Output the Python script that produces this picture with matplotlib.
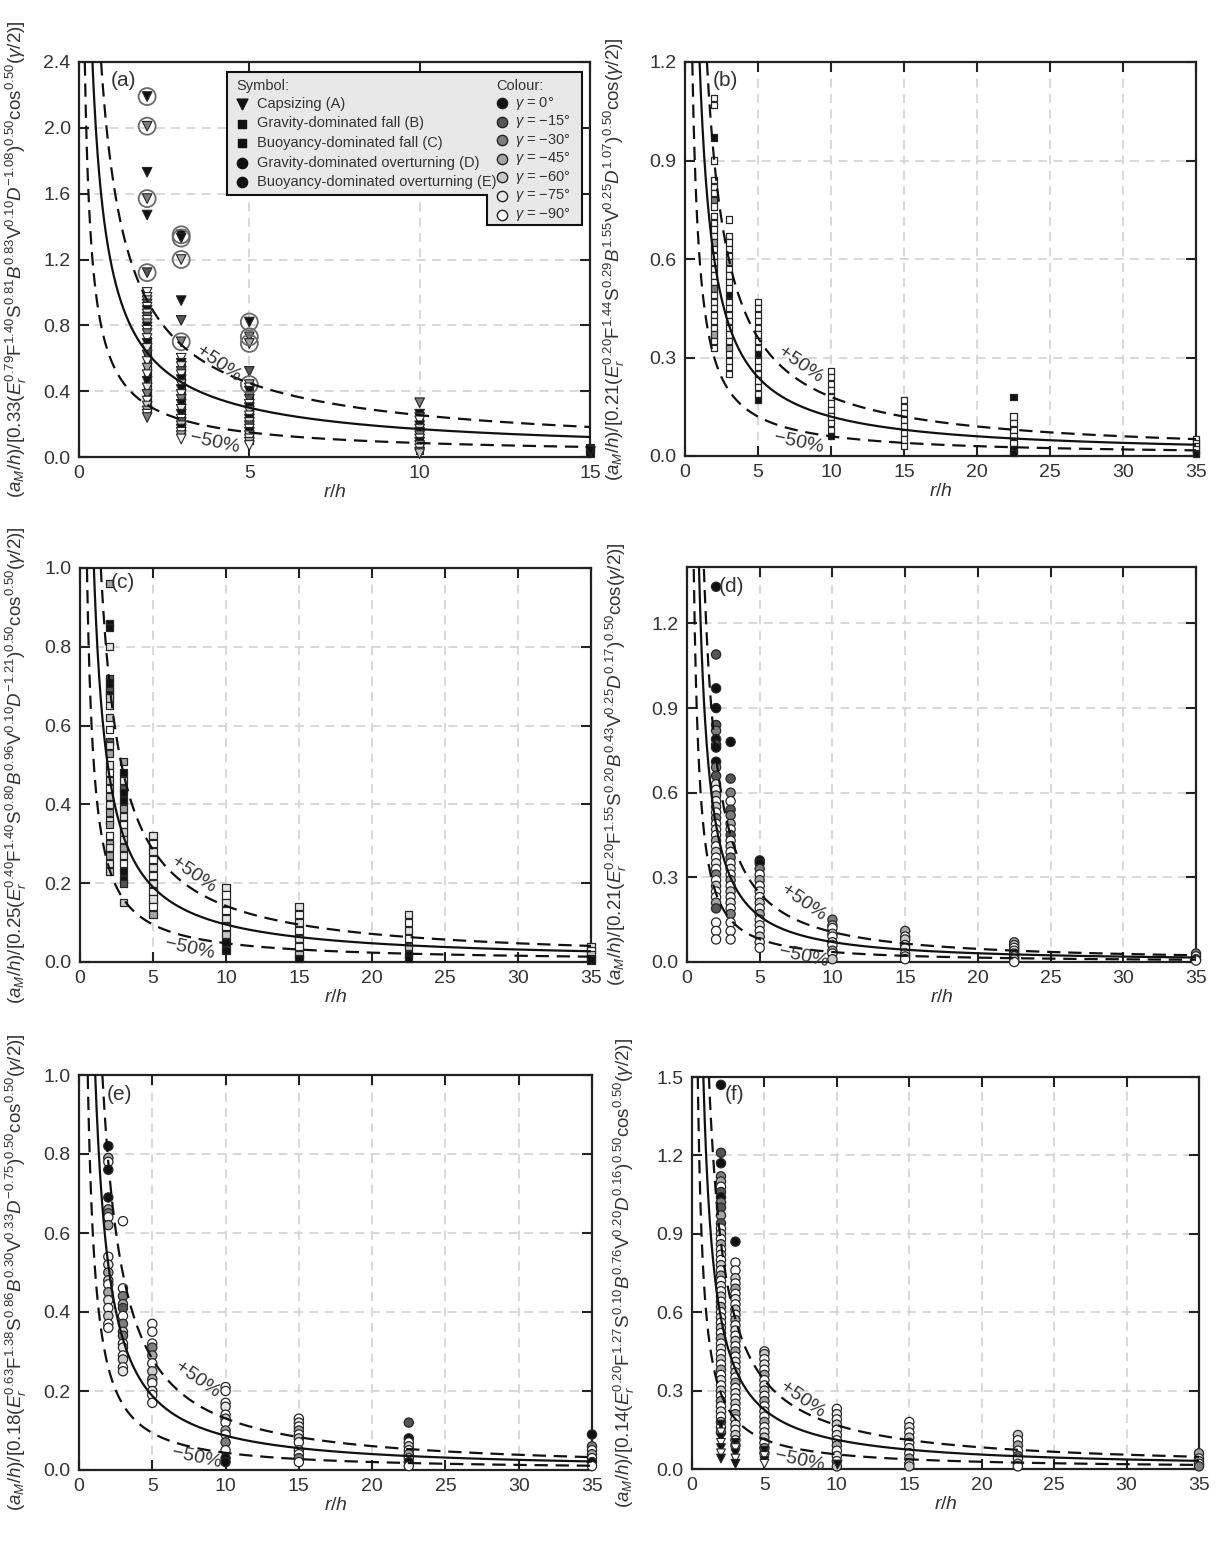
import numpy as np
import matplotlib
matplotlib.use("Agg")
import matplotlib.pyplot as plt
from matplotlib.patches import Polygon

plt.rcParams['font.family'] = ['Liberation Sans', 'DejaVu Sans']
plt.rcParams['mathtext.fontset'] = 'custom'
plt.rcParams['mathtext.rm'] = 'Liberation Sans'
plt.rcParams['mathtext.it'] = 'Liberation Sans:italic'
plt.rcParams['mathtext.bf'] = 'Liberation Sans:bold'
plt.rcParams['mathtext.sf'] = 'Liberation Sans'

# ---------------- data ----------------
R_A = [2, 3, 5, 10, 15]
R_ALL = [2, 3, 5, 10, 15, 22.5, 35]

# gamma code: 0 -> 0deg, 1 -> -15, 2 -> -30, 3 -> -45, 4 -> -60, 5 -> -75, 6 -> -90
A_TRI_Y = [
    [2.19, 2.01, 1.73, 1.57, 1.47, 1.12, 1.00, 0.97, 0.95, 0.93, 0.91, 0.89, 0.87, 0.85, 0.83, 0.81,
     0.79, 0.77, 0.75, 0.72, 0.69, 0.66, 0.62, 0.58, 0.54, 0.50, 0.46, 0.42, 0.38, 0.34, 0.31, 0.28, 0.26, 0.24],
    [1.35, 1.33, 1.20, 0.95, 0.83, 0.70, 0.60, 0.57, 0.55, 0.52, 0.50, 0.47, 0.44, 0.41, 0.38, 0.35,
     0.32, 0.29, 0.26, 0.23, 0.21, 0.19, 0.17, 0.15, 0.13, 0.11],
    [0.82, 0.73, 0.69, 0.52, 0.44, 0.42, 0.40, 0.37, 0.35, 0.32, 0.30, 0.28, 0.25, 0.23, 0.21, 0.19,
     0.17, 0.15, 0.13, 0.11, 0.09, 0.07],
    [0.33, 0.26, 0.24, 0.22, 0.19, 0.17, 0.15, 0.13, 0.11, 0.09, 0.07, 0.05, 0.03, 0.02],
    [0.035],
]
A_TRI_G = ["0202016641605163062605163605264362",
           "00301260516040620506140636",
           "0231360516046051604636",
           "20160402603614",
           "0"]
A_SQ_Y = [
    [0.71, 0.69, 0.67, 0.64, 0.61, 0.59, 0.57, 0.55, 0.53, 0.51, 0.49, 0.47, 0.45, 0.43, 0.41, 0.39,
     0.37, 0.35, 0.33, 0.31, 0.29],
    [0.58, 0.54, 0.50, 0.46, 0.43, 0.40, 0.37, 0.34, 0.31, 0.28, 0.25, 0.22, 0.19, 0.16],
    [0.40, 0.36, 0.33, 0.29, 0.26, 0.22, 0.19, 0.16, 0.13, 0.10],
    [0.25, 0.21, 0.18, 0.14, 0.12, 0.08, 0.06, 0.04],
    [0.06, 0.05, 0.04, 0.03, 0.02],
]
A_SQ_G = ["010305104106203105020", "01030104020105", "1030104020", "01030102", "00010"]
A_RING_Y = [[2.19, 2.01, 1.57, 1.12], [1.35, 1.33, 1.20, 0.70], [0.82, 0.73, 0.69, 0.44], [], []]

B_SQ_Y = [
    [1.09, 1.07, 0.97, 0.90, 0.84, 0.82, 0.80, 0.78, 0.76, 0.73, 0.71, 0.69, 0.67, 0.65, 0.63, 0.61,
     0.59, 0.57, 0.55, 0.53, 0.51, 0.49, 0.47, 0.45, 0.43, 0.41, 0.39, 0.37, 0.35, 0.33],
    [0.72, 0.67, 0.65, 0.63, 0.61, 0.59, 0.57, 0.55, 0.53, 0.51, 0.49, 0.47, 0.45, 0.43, 0.41, 0.39,
     0.37, 0.35, 0.33, 0.31, 0.29, 0.27, 0.25],
    [0.47, 0.45, 0.43, 0.41, 0.39, 0.37, 0.35, 0.33, 0.31, 0.29, 0.27, 0.25, 0.23, 0.21, 0.19, 0.17],
    [0.26, 0.24, 0.22, 0.20, 0.18, 0.16, 0.14, 0.12, 0.10, 0.08, 0.06],
    [0.17, 0.15, 0.13, 0.11, 0.09, 0.07, 0.05, 0.03],
    [0.18, 0.12, 0.10, 0.08, 0.06, 0.04, 0.02, 0.01],
    [0.05, 0.04, 0.03, 0.02, 0.01, 0.005],
]
B_SQ_G = ["660666626666636666662666666366", "66666366660666666636666", "6666666606666660",
          "66666666660", "66666666", "06666600", "666600"]

C_SQ_Y = [
    [0.96, 0.86, 0.85, 0.80, 0.72, 0.71, 0.70, 0.69, 0.68, 0.67, 0.65, 0.62, 0.59, 0.56, 0.55, 0.53,
     0.50, 0.48, 0.46, 0.44, 0.42, 0.40, 0.38, 0.36, 0.35, 0.32, 0.30, 0.29, 0.27, 0.25, 0.23],
    [0.51, 0.48, 0.46, 0.44, 0.43, 0.41, 0.39, 0.37, 0.35, 0.33, 0.31, 0.29, 0.27, 0.25, 0.23, 0.21, 0.20, 0.15],
    [0.32, 0.30, 0.28, 0.26, 0.24, 0.22, 0.20, 0.18, 0.16, 0.14, 0.12],
    [0.19, 0.17, 0.15, 0.13, 0.11, 0.09, 0.07, 0.05, 0.03],
    [0.14, 0.12, 0.10, 0.08, 0.06, 0.04, 0.02, 0.01],
    [0.12, 0.10, 0.08, 0.06, 0.04, 0.02, 0.01],
    [0.04, 0.03, 0.02, 0.01, 0.005],
]
C_SQ_G = ["3005100104546153564645353635354", "305100356453560014", "56565656563",
          "565656400", "56565640", "5656400", "56400"]

D_CI_Y = [
    [1.33, 1.09, 0.97, 0.90, 0.84, 0.82, 0.79, 0.77, 0.76, 0.71, 0.69, 0.66, 0.63, 0.61, 0.59, 0.57,
     0.55, 0.53, 0.51, 0.49, 0.47, 0.45, 0.43, 0.41, 0.39, 0.37, 0.35, 0.33, 0.31, 0.29, 0.27, 0.25,
     0.23, 0.21, 0.19, 0.14, 0.11, 0.08],
    [0.78, 0.65, 0.60, 0.57, 0.54, 0.52, 0.49, 0.47, 0.45, 0.43, 0.41, 0.39, 0.37, 0.35, 0.33, 0.31,
     0.29, 0.27, 0.25, 0.23, 0.21, 0.19, 0.17, 0.14, 0.11, 0.08],
    [0.36, 0.35, 0.33, 0.31, 0.29, 0.27, 0.25, 0.23, 0.21, 0.19, 0.17, 0.15, 0.13, 0.11, 0.09, 0.07, 0.05],
    [0.15, 0.13, 0.12, 0.10, 0.09, 0.07, 0.06, 0.04, 0.03, 0.01],
    [0.11, 0.09, 0.08, 0.06, 0.05, 0.03, 0.02, 0.01],
    [0.07, 0.06, 0.05, 0.04, 0.03, 0.02, 0.01, 0.0],
    [0.03, 0.02, 0.01, 0.005],
]
D_CI_G = ["01001201002156364626563646562646631666", "01261236164626563646562666",
          "00263656463656466", "2364656364", "36465646", "34653646", "2636"]

E_CI_Y = [
    [0.82, 0.79, 0.78, 0.76, 0.69, 0.66, 0.65, 0.64, 0.62, 0.54, 0.52, 0.50, 0.48, 0.47, 0.45, 0.43,
     0.41, 0.39, 0.37, 0.36],
    [0.63, 0.46, 0.44, 0.42, 0.41, 0.39, 0.37, 0.35, 0.34, 0.32, 0.31, 0.29, 0.28, 0.26, 0.25],
    [0.37, 0.35, 0.32, 0.31, 0.29, 0.27, 0.25, 0.23, 0.22, 0.20, 0.19, 0.17],
    [0.21, 0.20, 0.17, 0.16, 0.14, 0.13, 0.12, 0.10, 0.09, 0.07, 0.05, 0.03, 0.02],
    [0.13, 0.12, 0.11, 0.10, 0.09, 0.08, 0.07, 0.05, 0.04, 0.03, 0.02],
    [0.12, 0.08, 0.07, 0.06, 0.05, 0.04, 0.03, 0.02, 0.01],
    [0.09, 0.06, 0.05, 0.04, 0.03, 0.02, 0.01],
]
E_CI_G = ["03600326365346356466", "662316242656465", "666236436566", "6665646362600",
          "65636465626", "106463606", "0263606"]

F_CI_Y = [
    [1.47, 1.21, 1.17, 1.12, 1.10, 1.08, 1.06, 1.04, 1.02, 1.00, 0.97, 0.94, 0.92,
     0.90, 0.88, 0.86, 0.84, 0.82, 0.80, 0.78, 0.76, 0.74, 0.72, 0.70, 0.68, 0.66, 0.64, 0.62, 0.60,
     0.58, 0.56, 0.54, 0.52, 0.50, 0.48, 0.46, 0.44, 0.42, 0.40, 0.38, 0.36, 0.34, 0.32, 0.30, 0.28,
     0.26, 0.24, 0.22, 0.20, 0.18, 0.16, 0.14],
    [0.87, 0.79, 0.76, 0.73, 0.71, 0.69, 0.67, 0.65, 0.63, 0.61, 0.59, 0.57, 0.55, 0.53, 0.51, 0.49,
     0.47, 0.45, 0.43, 0.41, 0.39, 0.37, 0.35, 0.33, 0.31, 0.29, 0.27, 0.25, 0.23, 0.21, 0.19, 0.17,
     0.15, 0.13, 0.11, 0.09],
    [0.45, 0.44, 0.42, 0.40, 0.38, 0.36, 0.34, 0.32, 0.30, 0.28, 0.26, 0.24, 0.22, 0.20, 0.18, 0.16,
     0.14, 0.12, 0.10, 0.08, 0.06],
    [0.23, 0.21, 0.19, 0.17, 0.15, 0.13, 0.11, 0.09, 0.07, 0.05, 0.03, 0.01],
    [0.18, 0.16, 0.14, 0.12, 0.10, 0.08, 0.06, 0.04, 0.02, 0.01],
    [0.13, 0.11, 0.09, 0.07, 0.05, 0.04, 0.02, 0.01],
    [0.06, 0.04, 0.03, 0.02, 0.01],
]
F_CI_G = ["0102361021316463656463656463656463656463656463656463",
          "066463656463656463656463656463656463",
          "646563654636563654636", "656465636564", "6564656364", "46362646", "36462"]
F_TRI_Y = [[0.17, 0.14, 0.12, 0.10, 0.08, 0.06, 0.04], [0.10, 0.08, 0.06, 0.04, 0.02],
           [0.07, 0.05, 0.03, 0.02], [0.02], [], [], []]
F_TRI_G = ["0606060", "06060", "0606", "0", "0", "0", "0"]

# fitted power-law curves  y = a * (r/h)^(-b)
FIT = {'a': (1.12, 0.82), 'b': (1.20, 1.0), 'c': (0.95, 1.0),
       'd': (1.11, 1.195), 'e': (1.12, 1.11), 'f': (1.17, 1.02)}

YLABELS = {
    'a': r"$(a_M/h)/[0.33(E_r^{0.79}\mathrm{F}^{1.40}\mathrm{S}^{0.81}B^{0.83}\mathrm{V}^{0.10}D^{-1.08})^{0.50}\mathrm{cos}^{0.50}(\gamma/2)]$",
    'b': r"$(a_M/h)/[0.21(E_r^{0.20}\mathrm{F}^{1.44}\mathrm{S}^{0.29}B^{1.55}\mathrm{V}^{0.25}D^{1.07})^{0.50}\mathrm{cos}(\gamma/2)]$",
    'c': r"$(a_M/h)/[0.25(E_r^{0.40}\mathrm{F}^{1.40}\mathrm{S}^{0.80}B^{0.96}\mathrm{V}^{0.10}D^{-1.21})^{0.50}\mathrm{cos}^{0.50}(\gamma/2)]$",
    'd': r"$(a_M/h)/[0.21(E_r^{0.20}\mathrm{F}^{1.55}\mathrm{S}^{0.20}B^{0.43}\mathrm{V}^{0.25}D^{0.17})^{0.50}\mathrm{cos}(\gamma/2)]$",
    'e': r"$(a_M/h)/[0.18(E_r^{0.63}\mathrm{F}^{1.38}\mathrm{S}^{0.86}B^{0.30}\mathrm{V}^{0.33}D^{-0.75})^{0.50}\mathrm{cos}^{0.50}(\gamma/2)]$",
    'f': r"$(a_M/h)/[0.14(E_r^{0.20}\mathrm{F}^{1.27}\mathrm{S}^{0.10}B^{0.76}\mathrm{V}^{0.20}D^{0.16})^{0.50}\mathrm{cos}^{0.50}(\gamma/2)]$",
}

SYM_LABELS = ['Capsizing (A)', 'Gravity-dominated fall (B)', 'Buoyancy-dominated fall (C)',
              'Gravity-dominated overturning (D)', 'Buoyancy-dominated overturning (E)']
COL_LABELS = [r'$\gamma$ = 0°', r'$\gamma$ = −15°', r'$\gamma$ = −30°', r'$\gamma$ = −45°',
              r'$\gamma$ = −60°', r'$\gamma$ = −75°', r'$\gamma$ = −90°']

# ---------------- style ----------------
W, H = 1227, 1555
GREYS = ['#111111', '#555555', '#7d7d7d', '#a5a5a5', '#c9c9c9', '#e6e6e6', '#ffffff']
EDGE = '#262626'
TXT = '#333333'

fig = plt.figure(figsize=(W / 100, H / 100), dpi=100)

BOX = {'a': (79, 590, 62, 457), 'b': (685, 1196, 62, 456), 'c': (80, 591, 568, 962),
       'd': (687, 1196, 567, 962), 'e': (79, 592, 1075, 1470), 'f': (692, 1199, 1077, 1469)}
LIMS = {'a': (15, [0, 5, 10, 15], 2.4, np.arange(0, 2.41, 0.4)),
        'b': (35, np.arange(0, 36, 5), 1.2, np.arange(0, 1.21, 0.3)),
        'c': (35, np.arange(0, 36, 5), 1.0, np.arange(0, 1.01, 0.2)),
        'd': (35, np.arange(0, 36, 5), 1.4, np.arange(0, 1.21, 0.3)),
        'e': (35, np.arange(0, 36, 5), 1.0, np.arange(0, 1.01, 0.2)),
        'f': (35, np.arange(0, 36, 5), 1.5, np.arange(0, 1.51, 0.3))}
PLABEL = {'a': (124, 80), 'b': (725, 80), 'c': (123, 583), 'd': (732, 587), 'e': (119, 1095), 'f': (735, 1095)}
YLAB_X = {'a': 16, 'b': 614, 'c': 16, 'd': 616, 'e': 16, 'f': 624}
BAND = {'a': ((4.1, 0.567), (3.98, 0.085)), 'b': ((7.9, 0.278), (7.8, 0.039)),
        'c': ((7.75, 0.22), (7.5, 0.034)), 'd': ((8.0, 0.208), (8.0, 0.018)),
        'e': ((8.04, 0.229), (8.0, 0.031)), 'f': ((7.65, 0.266), (7.4, 0.03))}


def make_ax(key):
    l, r, t, b = BOX[key]
    ax = fig.add_axes([l / W, 1 - b / H, (r - l) / W, (b - t) / H])
    xmax, xt, ymax, yt = LIMS[key]
    ax.set_xlim(0, xmax)
    ax.set_ylim(0, ymax)
    ax.set_xticks(xt)
    ax.set_yticks(yt)
    ax.set_xticklabels(['%g' % v for v in xt])
    ax.set_yticklabels(['%.1f' % v for v in yt])
    ax.grid(True, color='#d6d6d6', linestyle=(0, (5, 3.5)), linewidth=1.3)
    ax.set_axisbelow(True)
    ax.tick_params(direction='in', length=7, width=1.5, top=True, right=True,
                   labelsize=14, labelcolor=TXT, color='#222222', pad=6)
    for sp in ax.spines.values():
        sp.set_linewidth(1.6)
        sp.set_color('#222222')
    ax.set_xlabel('$r/h$', fontsize=14, color=TXT, labelpad=1)
    # panel label
    px, py = PLABEL[key]
    ax.text((px - l) / (r - l), (b - py) / (b - t), '(%s)' % key, transform=ax.transAxes,
            fontsize=15, ha='center', va='center', color=TXT, zorder=12)
    fig.text(YLAB_X[key] / W, 1 - ((t + b) / 2) / H, YLABELS[key], rotation=90,
             ha='center', va='center', fontsize=13.5, color=TXT)
    # fitted curve with +/-50% band
    a, bexp = FIT[key]
    x = np.linspace(0.03, xmax, 900)
    y = a * x ** (-bexp)
    ax.plot(x, y, color='#111111', lw=1.6, zorder=4)
    for k in (1.5, 0.5):
        ax.plot(x, k * y, color='#111111', lw=1.6, dashes=(6, 3.5), zorder=4)
    (ux, uy), (lx, ly) = BAND[key]
    ax.text(ux, uy, '+50%', rotation=-35, ha='center', va='center', fontsize=14, color=TXT, zorder=5)
    ax.text(lx, ly, '−50%', rotation=-12, ha='center', va='center', fontsize=14, color=TXT, zorder=5)
    return ax


def scatter_columns(ax, xs, ylists, glists, marker, s, lw=0.9, z=3):
    for x, ys, gs in zip(xs, ylists, glists):
        if len(ys) == 0:
            continue
        cols = [GREYS[int(gs[i % len(gs)])] for i in range(len(ys))]
        ax.scatter([x] * len(ys), ys, s=s, marker=marker, c=cols, edgecolors=EDGE,
                   linewidths=lw, zorder=z, clip_on=False)


# ---- panel a ----
ax = make_ax('a')
scatter_columns(ax, R_A, A_SQ_Y, A_SQ_G, 's', 26, lw=0.8)
scatter_columns(ax, R_A, A_TRI_Y, A_TRI_G, 'v', 48, lw=0.8)
for x, ys in zip(R_A, A_RING_Y):
    if ys:
        ax.scatter([x] * len(ys), ys, s=150, facecolors='none', edgecolors='#6a6a6a',
                   linewidths=1.3, zorder=3.5, clip_on=False)

# legend (L-shaped box)
l, r, t, b = BOX['a']


def fr(px, py):
    return ((px - l) / (r - l), (b - py) / (b - t))


poly = [fr(227, 72), fr(582, 72), fr(582, 225), fr(487, 225), fr(487, 195), fr(227, 195)]
ax.add_patch(Polygon(poly, closed=True, transform=ax.transAxes, facecolor='#e8e8e8',
                     edgecolor='#111111', lw=1.5, zorder=10, clip_on=False))
ax.text(*fr(236, 86), 'Symbol:', transform=ax.transAxes, fontsize=10.5, ha='left', va='center',
        color=TXT, zorder=11)
ax.text(*fr(496, 86), 'Colour:', transform=ax.transAxes, fontsize=10.5, ha='left', va='center',
        color=TXT, zorder=11)
sym_marks = [('v', 60), ('s', 34), ('s', 34), ('o', 55), ('o', 55)]
for i, lab in enumerate(SYM_LABELS):
    yy = 104 + 19.5 * i
    m, s = sym_marks[i]
    ax.scatter(*fr(242, yy), marker=m, s=s, c='#111111', transform=ax.transAxes, zorder=11, clip_on=False)
    ax.text(*fr(257, yy), lab, transform=ax.transAxes, fontsize=10.5, ha='left', va='center',
            color=TXT, zorder=11)
for i, lab in enumerate(COL_LABELS):
    yy = 103 + 18.6 * i
    ax.scatter(*fr(502, yy), marker='o', s=55, c=GREYS[i], edgecolors='#222222', linewidths=1.0,
               transform=ax.transAxes, zorder=11, clip_on=False)
    ax.text(*fr(515, yy), lab, transform=ax.transAxes, fontsize=10.5, ha='left', va='center',
            color=TXT, zorder=11)

# ---- panel b ----
ax = make_ax('b')
scatter_columns(ax, R_ALL, B_SQ_Y, B_SQ_G, 's', 20, lw=0.9)

# ---- panel c ----
ax = make_ax('c')
scatter_columns(ax, R_ALL, C_SQ_Y, C_SQ_G, 's', 26, lw=0.9)

# ---- panel d ----
ax = make_ax('d')
scatter_columns(ax, R_ALL, D_CI_Y, D_CI_G, 'o', 44, lw=0.9)

# ---- panel e ----
ax = make_ax('e')
scatter_columns(ax, R_ALL, E_CI_Y, E_CI_G, 'o', 44, lw=0.9)

# ---- panel f ----
ax = make_ax('f')
scatter_columns(ax, R_ALL, F_CI_Y, F_CI_G, 'o', 44, lw=0.9)
scatter_columns(ax, R_ALL, F_TRI_Y, F_TRI_G, 'v', 40, lw=0.8)

fig.savefig('out.png', dpi=100, facecolor='white')
